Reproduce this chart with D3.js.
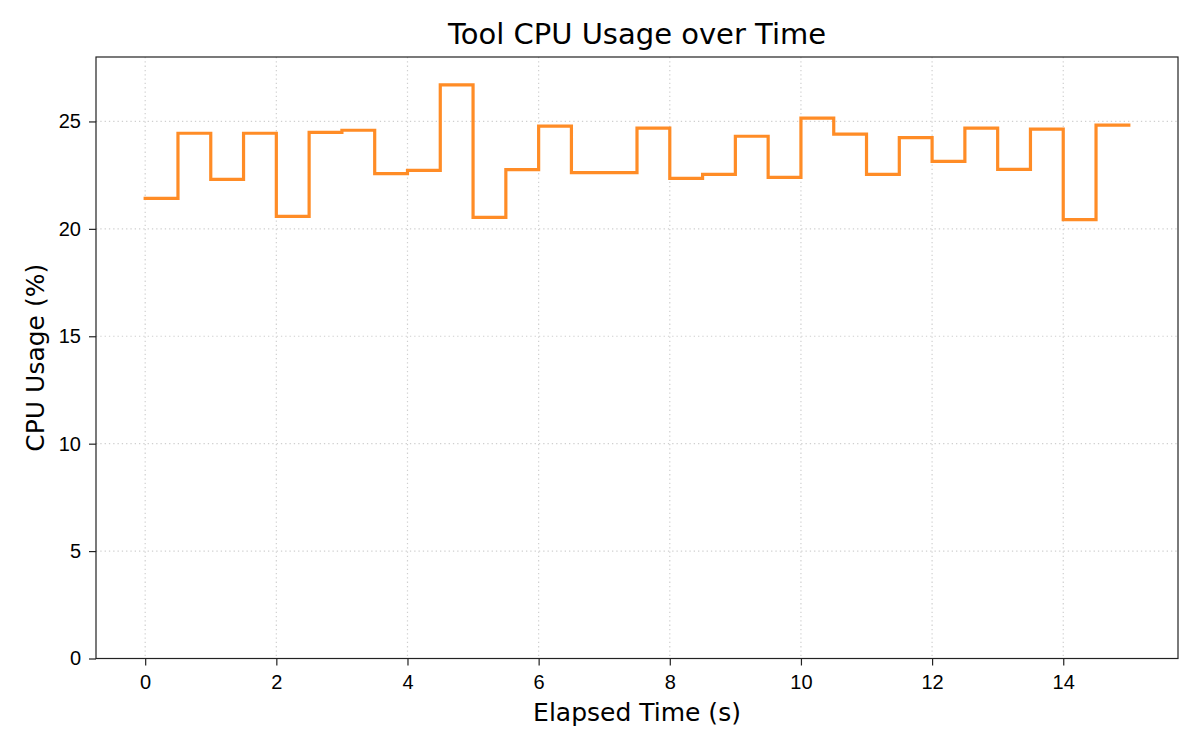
<!DOCTYPE html>
<html>
<head>
<meta charset="utf-8">
<script src="https://cdn.jsdelivr.net/npm/d3@7"></script>
<style>
  body { margin: 0; background: #fff; }
  svg { font-family: "DejaVu Sans", sans-serif; }
</style>
</head>
<body>
<div id="container"></div>
<script>
/* DATA */
const times = d3.range(31).map(i => i * 0.5);
const cpuUsage = [
  21.42, 24.45, 22.30, 24.45, 20.58, 24.49, 24.59, 22.57, 22.72, 26.70,
  20.53, 22.76, 24.78, 22.62, 22.62, 24.69, 22.35, 22.54, 24.31, 22.40,
  25.15, 24.41, 22.54, 24.25, 23.14, 24.69, 22.77, 24.64, 20.43, 24.83,
  24.83
];
const xTicks = [0, 2, 4, 6, 8, 10, 12, 14];
const yTicks = [0, 5, 10, 15, 20, 25];

/* CONSTANTS */
const width = 1200,
  height = 750,
  margin = { top: 57, bottom: 91.5, left: 96, right: 22 };

const data = times.map((t, i) => ({ time: t, cpu: cpuUsage[i] }));

const svg = d3.select("#container")
  .append("svg")
  .attr("width", width)
  .attr("height", height);

// SCALES
const xScale = d3.scaleLinear()
  .domain([-0.75, 15.75])
  .range([margin.left, width - margin.right]);

const yScale = d3.scaleLinear()
  .domain([0, 28])
  .range([height - margin.bottom, margin.top]);

// GRID
svg.append("g")
  .selectAll("line")
  .data(xTicks)
  .join("line")
  .attr("x1", d => xScale(d))
  .attr("x2", d => xScale(d))
  .attr("y1", margin.top)
  .attr("y2", height - margin.bottom)
  .attr("stroke", "#cfcfcf")
  .attr("stroke-width", 1.2)
  .attr("stroke-dasharray", "1.3,3");

svg.append("g")
  .selectAll("line")
  .data(yTicks)
  .join("line")
  .attr("x1", margin.left)
  .attr("x2", width - margin.right)
  .attr("y1", d => yScale(d))
  .attr("y2", d => yScale(d))
  .attr("stroke", "#cfcfcf")
  .attr("stroke-width", 1.2)
  .attr("stroke-dasharray", "1.3,3");

// LINE
const lineGen = d3.line()
  .x(d => xScale(d.time))
  .y(d => yScale(d.cpu))
  .curve(d3.curveStepAfter);

svg.append("path")
  .datum(data)
  .attr("fill", "none")
  .attr("stroke", "#ff8c26")
  .attr("stroke-width", 3.2)
  .attr("stroke-linecap", "square")
  .attr("d", lineGen);

// AXES
const xAxis = svg.append("g")
  .attr("transform", `translate(0,${height - margin.bottom})`)
  .call(d3.axisBottom(xScale).tickValues(xTicks).tickSize(7).tickPadding(9).tickSizeOuter(0));

const yAxis = svg.append("g")
  .attr("transform", `translate(${margin.left},0)`)
  .call(d3.axisLeft(yScale).tickValues(yTicks).tickSize(7).tickPadding(8).tickSizeOuter(0));

[xAxis, yAxis].forEach(ax => {
  ax.select(".domain").remove();
  ax.selectAll(".tick line").attr("stroke", "#222").attr("stroke-width", 1.2);
  ax.selectAll(".tick text").attr("fill", "#000").style("font-size", "20px");
});

// FRAME
svg.append("rect")
  .attr("x", margin.left)
  .attr("y", margin.top)
  .attr("width", width - margin.left - margin.right)
  .attr("height", height - margin.top - margin.bottom)
  .attr("fill", "none")
  .attr("stroke", "#222")
  .attr("stroke-width", 1.2);

// LABELS
svg.append("text")
  .attr("x", (margin.left + width - margin.right) / 2)
  .attr("y", 44)
  .attr("text-anchor", "middle")
  .style("font-size", "29px")
  .text("Tool CPU Usage over Time");

svg.append("text")
  .attr("x", (margin.left + width - margin.right) / 2)
  .attr("y", 721)
  .attr("text-anchor", "middle")
  .style("font-size", "25px")
  .text("Elapsed Time (s)");

svg.append("text")
  .attr("transform", `translate(43.5,${(margin.top + height - margin.bottom) / 2}) rotate(-90)`)
  .attr("text-anchor", "middle")
  .style("font-size", "25px")
  .text("CPU Usage (%)");
</script>
</body>
</html>
